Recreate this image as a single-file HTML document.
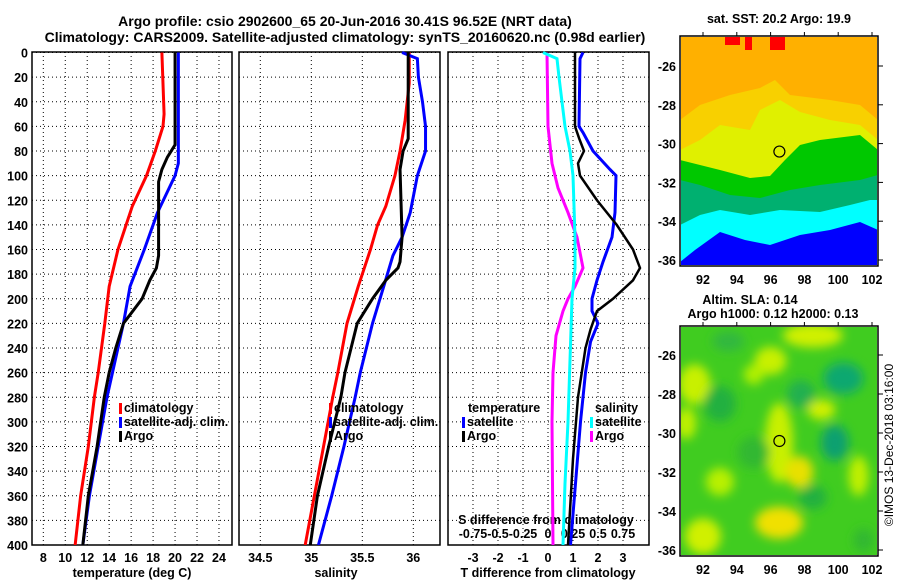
<!DOCTYPE html>
<html><head><meta charset="utf-8"><style>
body{margin:0;background:#fff;}
svg{display:block;font-family:"Liberation Sans",sans-serif;font-weight:bold;}
text{font-size:12.5px;fill:#000;}
</style></head><body>
<svg id="chart" width="900" height="580" viewBox="0 0 900 580">
<defs>
<clipPath id="c1"><rect x="32" y="36" width="200" height="509"/></clipPath>
<clipPath id="c2"><rect x="239" y="36" width="201" height="509"/></clipPath>
<clipPath id="c3"><rect x="448" y="36" width="201" height="509"/></clipPath>
<clipPath id="cm1"><rect x="681" y="37" width="196" height="228"/></clipPath>
<clipPath id="cm2"><rect x="681" y="327" width="196" height="228"/></clipPath>
<filter id="blur" x="-20%" y="-20%" width="140%" height="140%"><feGaussianBlur stdDeviation="5"/></filter>
</defs>
<text x="345" y="26" text-anchor="middle" style="font-size:14px">Argo profile: csio 2902600_65 20-Jun-2016 30.41S 96.52E (NRT data)</text>
<text x="345" y="42" text-anchor="middle" style="font-size:14px">Climatology: CARS2009. Satellite-adjusted climatology: synTS_20160620.nc (0.98d earlier)</text>
<g id="g"></g>
</svg>
<script>
// depth samples
const tDepth=[0,50,60,80,100,125,160,190,220,260,280,320,360,400];
const tClim=[18.8,19.0,18.9,18.2,17.4,16.1,14.8,14.0,13.6,13.0,12.65,12.1,11.4,10.9];
const tSatDepth=[0,90,100,130,160,190,220,260,280,320,360,400];
const tSat=[20.3,20.3,20.0,18.4,17.2,15.9,15.3,14.3,13.8,13.0,12.2,11.6];
const tArgoDepth=[0,75,85,95,105,165,175,185,200,220,240,260,280,320,360,400];
const tArgo=[20.0,20.0,19.3,18.8,18.5,18.5,18.3,17.7,17.0,15.3,14.6,14.0,13.55,12.9,12.1,11.6];
const sClimDepth=[0,25,55,80,100,125,140,160,190,220,260,280,320,360,400];
const sClim=[35.96,35.96,35.92,35.87,35.82,35.73,35.65,35.58,35.46,35.35,35.26,35.21,35.12,35.03,34.94];
const sSatDepth=[0,5,20,40,60,80,100,130,150,165,190,220,260,280,320,360,400];
const sSat=[35.89,36.04,36.05,36.09,36.12,36.12,36.04,35.97,35.89,35.80,35.71,35.60,35.48,35.43,35.32,35.20,35.07];
const sArgoDepth=[0,70,80,95,150,170,175,185,200,220,260,280,320,360,400];
const sArgo=[35.95,35.95,35.90,35.87,35.89,35.87,35.85,35.73,35.60,35.45,35.33,35.29,35.17,35.06,34.99];
const dTArgoDepth=[0,60,70,80,90,100,120,140,160,175,185,200,210,225,240,280,330,400];
const dTArgo=[1.08,1.08,1.25,1.44,1.2,1.28,1.96,2.75,3.4,3.68,3.4,2.6,1.96,1.7,1.5,1.2,1.0,0.8];
const dTSatDepth=[0,5,60,65,80,95,100,130,150,170,185,200,210,220,235,260,300,350,400];
const dTSat=[1.4,1.28,1.24,1.4,1.8,2.48,2.72,2.68,2.56,2.2,1.96,1.76,1.76,2.0,1.7,1.5,1.3,1.1,0.9];
const dSArgoDepth=[0,60,75,90,110,130,150,175,190,200,210,230,260,300,400];
const dSArgo=[-0.01,0,0.02,0.04,0.1,0.2,0.29,0.35,0.27,0.2,0.15,0.08,0.05,0.04,0.05];
const dSSatDepth=[0,5,20,60,80,100,150,175,200,300,350,400];
const dSSat=[-0.05,0.09,0.11,0.17,0.22,0.25,0.27,0.27,0.24,0.2,0.17,0.15];
const depthTicks=[0,20,40,60,80,100,120,140,160,180,200,220,240,260,280,300,320,340,360,380,400];
const tTicks=[8,10,12,14,16,18,20,22,24];
const sTicks=[34.5,35,35.5,36];
const dTTicks=[-3,-2,-1,0,1,2,3];
const dSTicks=[-0.75,-0.5,-0.25,0,0.25,0.5,0.75];
const dSTickLabels=['-0.75','-0.5','-0.25','0','0.25','0.5','0.75'];
const latTicks=[-26,-28,-30,-32,-34,-36];
const lonTicks=[92,94,96,98,100,102];

const NS='http://www.w3.org/2000/svg';
const G=document.getElementById('g');
function el(t,a,p){const e=document.createElementNS(NS,t);for(const k in a)e.setAttribute(k,a[k]);(p||G).appendChild(e);return e;}
const y=d=>52.5+d*1.2313;
const xT=v=>43.3+(v-8)*10.98;
const xS=v=>260.3+(v-34.5)*102;
const xD=v=>548+v*25;
const xDS=v=>548+v*100;
const lonX=v=>703+(v-92)*16.9;
const latY1=v=>66+(-26-v)*19.4;
const latY2=v=>355+(-26-v)*19.5;

function panel(x0,x1,name,xs,ticks,labels,clip){
  const g=el('g',{});
  
  
  ticks.forEach(t=>{const l=el('line',{x1:xs(t),x2:xs(t),y1:52,y2:545,stroke:'#000','stroke-width':1,'stroke-dasharray':'1,3'},g);});
  depthTicks.forEach(d=>{const l=el('line',{x1:x0,x2:x1,y1:y(d),y2:y(d),stroke:'#000','stroke-width':1,'stroke-dasharray':'1,3'},g);});
  const r=el('rect',{x:x0,y:52,width:x1-x0,height:493,fill:'none',stroke:'#000','stroke-width':1.5},g);
  
  ticks.forEach((t,i)=>{const tx=el('text',{x:xs(t),y:562,'text-anchor':'middle'},g);tx.textContent=labels[i];});
}
function line(ds,vs,xs,color,name,clip,w){
  const p=el('polyline',{points:ds.map((d,i)=>xs(vs[i])+','+y(d)).join(' '),fill:'none',stroke:color,'stroke-width':w||3,'clip-path':'url(#'+clip+')'});
  
}
panel(32,232,'temperature-panel',xT,tTicks,tTicks.map(String),'c1');
panel(239,440,'salinity-panel',xS,sTicks,sTicks.map(String),'c2');
panel(448,649,'difference-panel',xD,dTTicks,dTTicks.map(String),'c3');
depthTicks.forEach(d=>{const t=el('text',{x:28,y:y(d)+5,'text-anchor':'end'});t.textContent=d;});
dSTicks.forEach((v,i)=>{const t=el('text',{x:xDS(v),y:538,'text-anchor':'middle'});t.textContent=dSTickLabels[i];});
[['temperature (deg C)',132,'x-axis-title-temperature'],['salinity',336,'x-axis-title-salinity'],['T difference from climatology',548,'x-axis-title-t-diff']].forEach(a=>{const t=el('text',{x:a[1],y:577,'text-anchor':'middle'});t.textContent=a[0];});
{const t=el('text',{x:546,y:524,'text-anchor':'middle'});t.textContent='S difference from climatology';}

line(tDepth,tClim,xT,'#f00','temp-climatology-line','c1');
line(tSatDepth,tSat,xT,'#00f','temp-satellite-line','c1');
line(tArgoDepth,tArgo,xT,'#000','temp-argo-line','c1');
line(sClimDepth,sClim,xS,'#f00','sal-climatology-line','c2');
line(sSatDepth,sSat,xS,'#00f','sal-satellite-line','c2');
line(sArgoDepth,sArgo,xS,'#000','sal-argo-line','c2');
line(dSArgoDepth,dSArgo,xDS,'#f0f','s-diff-argo-line','c3');
line(dSSatDepth,dSSat,xDS,'#0ff','s-diff-satellite-line','c3');
line(dTSatDepth,dTSat,xD,'#00f','t-diff-satellite-line','c3');
line(dTArgoDepth,dTArgo,xD,'#000','t-diff-argo-line','c3',2.5);

function legend(x,yy,color,label,name){
  const r=el('rect',{x:x,y:yy-9,width:3,height:11,fill:color});
  const t=el('text',{x:x+5,y:yy});t.textContent=label;
}
legend(119,412,'#f00','climatology','legend-temp-climatology');
legend(119,426,'#00f','satellite-adj. clim.','legend-temp-satellite');
legend(119,440,'#000','Argo','legend-temp-argo');
legend(329,412,'#f00','climatology','legend-sal-climatology');
legend(329,426,'#00f','satellite-adj. clim.','legend-sal-satellite');
legend(329,440,'#000','Argo','legend-sal-argo');
{const t=el('text',{x:468,y:412});t.textContent='temperature';}
{const t=el('text',{x:595,y:412});t.textContent='salinity';}
legend(462,426,'#00f','satellite','legend-t-diff-satellite');
legend(462,440,'#000','Argo','legend-t-diff-argo');
legend(590,426,'#0ff','satellite','legend-s-diff-satellite');
legend(590,440,'#f0f','Argo','legend-s-diff-argo');

// maps
function mapFrame(y0,latY,name){
  const r=el('rect',{x:680,y:y0,width:198,height:230,fill:'none',stroke:'#000','stroke-width':1.5});
  
  latTicks.forEach(v=>{const t=el('text',{x:676,y:latY(v)+5,'text-anchor':'end'});t.textContent=v;
    el('line',{x1:878,x2:883,y1:latY(v),y2:latY(v),stroke:'#000'});});
  lonTicks.forEach(v=>{const t=el('text',{x:lonX(v),y:y0+248,'text-anchor':'middle'});t.textContent=v;
    el('line',{x1:lonX(v),x2:lonX(v),y1:y0,y2:y0-4,stroke:'#000'});});
}
// SST map
const m1=el('g',{'clip-path':'url(#cm1)'});
el('rect',{x:680,y:36,width:198,height:230,fill:'#ffb000'},m1);
el('path',{d:'M680,120 L700,105 L730,95 L760,88 L775,80 L790,95 L830,100 L860,105 L878,120 L878,266 L680,266Z',fill:'#f8d000'},m1);
el('path',{d:'M680,150 L700,140 L720,125 L750,130 L760,110 L780,100 L800,112 L830,120 L860,125 L878,140 L878,266 L680,266Z',fill:'#e0f000'},m1);
el('path',{d:'M680,160 L700,165 L720,170 L750,178 L770,176 L785,160 L800,145 L820,140 L860,135 L878,150 L878,266 L680,266Z',fill:'#00c800'},m1);
el('path',{d:'M680,180 L700,185 L730,195 L760,198 L790,190 L820,185 L860,180 L878,175 L878,266 L680,266Z',fill:'#00b070'},m1);
el('path',{d:'M680,225 L700,215 L720,210 L750,215 L780,210 L820,212 L850,205 L870,200 L878,200 L878,266 L680,266Z',fill:'#00ffff'},m1);
el('path',{d:'M680,262 L695,250 L720,232 L745,240 L770,245 L800,235 L830,230 L860,222 L878,230 L878,266 L680,266Z',fill:'#0000ff'},m1);
el('path',{d:'M745,37 L752,37 L752,50 L745,50Z M725,37 L740,37 L740,45 L725,45Z M770,37 L785,37 L785,50 L770,50Z',fill:'#f00'},m1);
el('circle',{cx:lonX(96.52),cy:latY1(-30.41),r:5.5,fill:'none',stroke:'#000','stroke-width':1.2});
mapFrame(36,latY1,'sst-map');
{const t=el('text',{x:779,y:23,'text-anchor':'middle'});t.textContent='sat. SST: 20.2 Argo: 19.9';}
// SLA map
const m2=el('g',{'clip-path':'url(#cm2)'});
el('rect',{x:680,y:326,width:198,height:230,fill:'#40cc20'},m2);
const bl=el('g',{filter:'url(#blur)'},m2);
[[91.5,-27.5,16,20,'#c8f000'],[91,-29.5,10,16,'#c0f000'],[96,-26.3,16,14,'#c8f000'],[98.5,-25,30,12,'#d0f000'],[96.5,-30.5,14,40,'#c8f000'],[97.7,-32,14,16,'#e8e000'],[96.5,-34.6,24,16,'#f0e000'],[92,-35.3,18,18,'#d0f000'],[99,-28.8,14,10,'#d0f000'],[101.2,-32.2,10,20,'#c0f000'],[93,-32.5,14,14,'#b8f000'],[95,-27,10,10,'#b0f000'],
 [100.3,-27.2,20,16,'#10a870'],[99.8,-30.5,14,18,'#10a070'],[93,-28.5,16,18,'#20b040'],[97.8,-28,14,14,'#20b050'],[95,-31,16,16,'#30b830'],[93.5,-25.3,16,10,'#30b840'],[98.5,-33.3,14,12,'#20b040'],[101.5,-35.5,10,12,'#30b830']].forEach(b=>el('ellipse',{cx:lonX(b[0]),cy:latY2(b[1]),rx:b[2],ry:b[3],fill:b[4]},bl));
el('circle',{cx:lonX(96.52),cy:latY2(-30.41),r:5.5,fill:'none',stroke:'#000','stroke-width':1.2});
mapFrame(326,latY2,'sla-map');
{const t=el('text',{x:750,y:304,'text-anchor':'middle'});t.textContent='Altim. SLA: 0.14';}
{const t=el('text',{x:773,y:318,'text-anchor':'middle'});t.textContent='Argo h1000: 0.12 h2000: 0.13';}
{const t=el('text',{x:893,y:445,'text-anchor':'middle',transform:'rotate(-90 893 445)',style:'font-weight:normal;font-size:12px'});t.textContent='©IMOS 13-Dec-2018 03:16:00';}
</script>
</body></html>
